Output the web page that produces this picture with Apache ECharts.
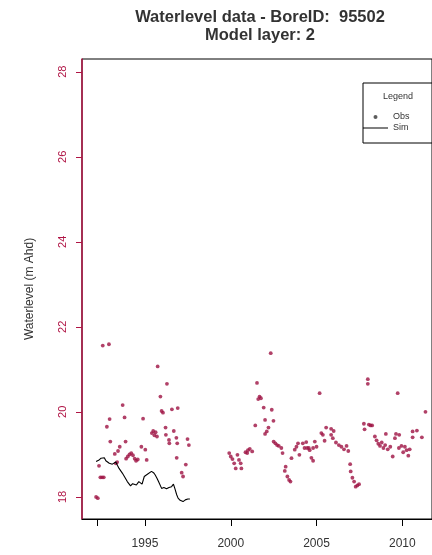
<!DOCTYPE html>
<html>
<head>
<meta charset="utf-8">
<script src="https://cdn.jsdelivr.net/npm/echarts@6/dist/echarts.min.js"></script>
<style>
html,body{margin:0;padding:0;background:#fff;}
#c{width:432px;height:555px;}
</style>
</head>
<body>
<div id="c"></div>
<script>
// Observed water levels (decimal year, m AHD)
const obsYears = [
1992.15,1992.25,1992.32,1992.40,1992.50,1992.60,1992.54,1992.90,1992.78,1992.94,1992.98,
1993.24,1993.30,1993.38,1993.43,1993.53,1993.70,1993.81,1993.87,1993.90,
1994.00,1994.10,1994.20,1994.30,1994.40,1994.48,1994.58,1994.79,1994.89,
1995.02,1995.10,1995.40,1995.48,1995.55,1995.62,1995.70,1995.74,1995.90,1995.97,
1996.05,1996.20,1996.22,1996.28,1996.40,1996.42,1996.57,1996.68,1996.83,1996.88,1996.85,1996.91,
1997.14,1997.22,1997.38,1997.48,1997.56,
1999.91,2000.00,2000.10,2000.20,2000.29,2000.39,2000.48,2000.58,2000.62,2000.86,2000.96,
2001.00,2001.11,2001.25,2001.43,2001.53,2001.60,2001.68,2001.76,2001.92,
2002.00,2002.00,2002.10,2002.20,2002.33,2002.39,2002.49,2002.50,2002.60,2002.70,2002.80,2002.95,
2003.02,2003.15,2003.20,2003.30,2003.40,2003.48,2003.54,2003.73,2003.83,2003.92,
2004.00,2004.20,2004.30,2004.40,2004.45,2004.55,2004.60,2004.70,2004.80,2004.80,2004.90,
2005.00,2005.18,2005.28,2005.37,2005.47,2005.56,2005.85,2005.85,2005.95,
2006.00,2006.13,2006.30,2006.45,2006.60,2006.75,2006.85,2006.96,2006.99,
2007.09,2007.19,2007.28,2007.38,2007.48,2007.76,2007.80,2007.99,2007.99,
2008.05,2008.15,2008.24,2008.40,2008.50,2008.60,2008.70,2008.80,2008.90,
2009.00,2009.04,2009.15,2009.30,2009.44,2009.57,2009.63,2009.73,2009.80,2009.82,2009.95,
2010.05,2010.15,2010.25,2010.35,2010.43,2010.60,2010.60,2010.85,2011.14,2011.35
];
const obsValues = [
18.00,17.97,18.73,18.46,18.46,18.46,21.56,21.59,19.65,19.83,19.30,
19.01,18.79,18.82,19.08,19.18,20.16,19.87,19.30,18.90,
18.95,19.00,19.03,18.98,18.90,18.85,18.88,19.18,19.84,
19.11,18.87,19.50,19.55,19.45,19.52,19.42,21.07,20.36,20.02,
19.98,19.63,19.46,20.66,19.34,19.26,20.06,19.55,19.39,19.26,18.92,20.09,
18.57,18.48,18.76,19.36,19.22,
19.03,18.95,18.89,18.79,18.67,18.99,18.87,18.79,18.67,19.05,19.03,
19.10,19.13,19.07,19.68,20.68,20.30,20.36,20.32,20.10,
19.81,19.48,19.54,19.63,21.38,20.05,19.79,19.30,19.26,19.22,19.20,19.15,
19.03,18.61,18.71,18.48,18.40,18.36,18.91,19.11,19.18,19.26,
18.99,19.26,19.15,19.29,19.15,19.15,19.10,18.92,18.85,19.15,19.30,
19.18,20.44,19.50,19.46,19.32,19.63,19.60,19.46,19.38,
19.55,19.28,19.22,19.18,19.12,19.20,19.08,18.77,18.60,
18.45,18.36,18.24,18.27,18.30,19.72,19.59,20.77,20.66,
19.70,19.68,19.68,19.42,19.33,19.25,19.20,19.28,19.15,
19.22,19.48,19.12,19.18,18.95,19.38,19.48,20.44,19.15,19.46,19.20,
19.05,19.18,19.10,18.97,19.12,19.54,19.40,19.56,19.40,20.00
];
// Simulated water levels
const simYears = [
1992.15,1992.30,1992.44,1992.55,1992.63,1992.72,1992.82,1992.92,1993.10,1993.20,1993.30,1993.40,
1993.49,1993.68,1993.80,1993.97,1994.16,1994.28,1994.35,1994.50,1994.64,1994.72,1994.83,1994.96,
1995.10,1995.21,1995.38,1995.50,1995.59,1995.70,1995.79,1995.97,1996.10,1996.26,1996.40,1996.55,
1996.66,1996.74,1996.85,1996.93,1997.05,1997.14,1997.22,1997.35,1997.50,1997.62
];
const simValues = [
18.83,18.86,18.91,18.93,18.92,18.85,18.82,18.79,18.77,18.80,18.82,18.74,
18.67,18.56,18.48,18.36,18.26,18.31,18.32,18.28,18.36,18.33,18.30,18.48,
18.52,18.56,18.60,18.57,18.52,18.44,18.36,18.20,18.22,18.19,18.22,18.24,
18.30,18.20,18.05,17.97,17.92,17.89,17.89,17.93,17.95,17.95
];
// Axis ticks
const xTicks = [1992.2, 1995, 2000, 2005, 2010];
const xTickLabels = [1995, 2000, 2005, 2010];
const yTicks = [18, 20, 22, 24, 26, 28];

const FONT = '"Liberation Sans", Arial, sans-serif';
const RED = '#b01445';

const chart = echarts.init(document.getElementById('c'), null, {renderer: 'canvas'});
chart.setOption({
  animation: false,
  backgroundColor: '#ffffff',
  title: [
    {
      text: 'Waterlevel data - BoreID:  95502\nModel layer: 2',
      left: 260, top: 8, textAlign: 'center', padding: 0,
      textStyle: {fontFamily: FONT, fontSize: 16.5, fontWeight: 'bold', color: '#333', lineHeight: 18, align: 'center'}
    },
    {
      text: 'Legend',
      left: 398, top: 92, textAlign: 'center', padding: 0,
      textStyle: {fontFamily: FONT, fontSize: 9, fontWeight: 'normal', color: '#333'}
    }
  ],
  legend: {
    orient: 'vertical',
    left: 363, top: 83,
    padding: [29, 40, 10, 0],
    borderColor: '#000', borderWidth: 1,
    itemWidth: 25, itemHeight: 4, itemGap: 1, itemTextGap: 10,
    textStyle: {fontFamily: FONT, fontSize: 9, color: '#333', lineHeight: 10},
    data: [
      {name: 'Obs', icon: 'circle', itemStyle: {color: '#333'}},
      {name: 'Sim', icon: 'path://M0,0 H25 V1 H0 Z', itemStyle: {color: '#000'}}
    ]
  },
  grid: {left: 82, top: 59, width: 356, bottom: 36, show: true, borderColor: '#000', borderWidth: 1, containLabel: false},
  xAxis: {
    type: 'value', min: 1991.33, max: 2011.73,
    axisLine: {show: true, lineStyle: {color: '#000', width: 1}},
    axisTick: {show: true, customValues: xTicks, length: 7, lineStyle: {color: '#000'}},
    axisLabel: {customValues: xTickLabels, margin: 19, fontFamily: FONT, fontSize: 12, color: '#333',
      formatter: v => String(Math.round(v))},
    splitLine: {show: false}
  },
  yAxis: {
    type: 'value', min: 17.48, max: 28.3,
    name: 'Waterlevel (m Ahd)', nameLocation: 'middle', nameRotate: 90, nameGap: 46,
    nameTextStyle: {fontFamily: FONT, fontSize: 12, color: '#333'},
    axisLine: {show: true, lineStyle: {color: RED, width: 1.5}},
    axisTick: {show: true, customValues: yTicks, length: 6, lineStyle: {color: RED}},
    axisLabel: {customValues: yTicks, rotate: 90, margin: 14, fontFamily: FONT, fontSize: 11, color: RED},
    splitLine: {show: false}
  },
  series: [
    {
      name: 'Obs', type: 'scatter', symbol: 'circle', symbolSize: 3.8,
      itemStyle: {color: '#9e1242'},
      data: obsYears.map((x, i) => [x, obsValues[i]])
    },
    {
      name: 'Sim', type: 'line', symbol: 'none',
      lineStyle: {color: '#000', width: 1.1},
      itemStyle: {color: '#000'},
      data: simYears.map((x, i) => [x, simValues[i]])
    }
  ]
});
</script>
</body>
</html>
